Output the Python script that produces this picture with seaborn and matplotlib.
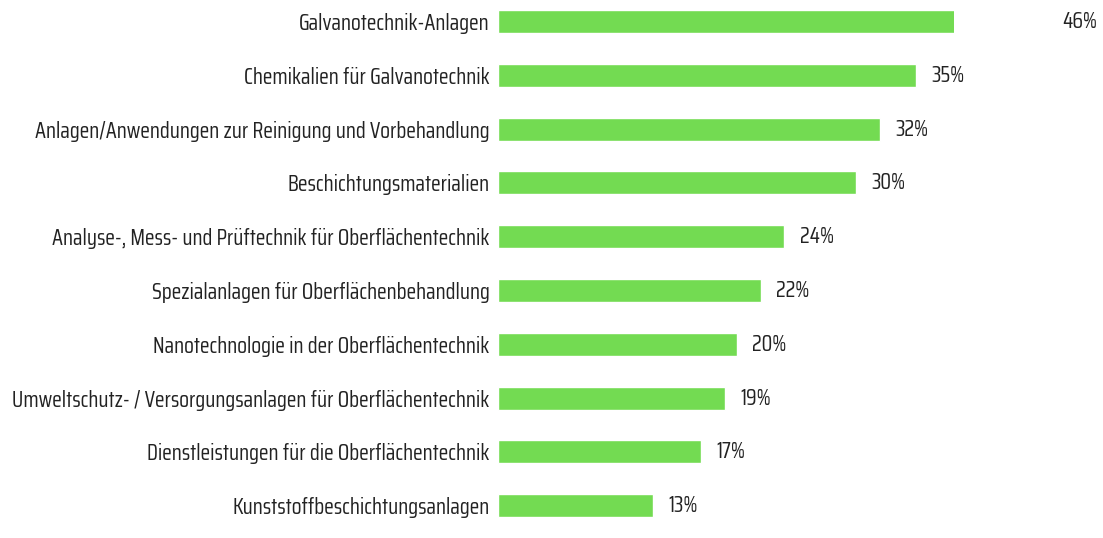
import matplotlib
matplotlib.use("Agg")
import matplotlib.pyplot as plt
import seaborn as sns
import pandas as pd

kategorien = [
    "Galvanotechnik-Anlagen",
    "Chemikalien für Galvanotechnik",
    "Anlagen/Anwendungen zur Reinigung und Vorbehandlung",
    "Beschichtungsmaterialien",
    "Analyse-, Mess- und Prüftechnik für Oberflächentechnik",
    "Spezialanlagen für Oberflächenbehandlung",
    "Nanotechnologie in der Oberflächentechnik",
    "Umweltschutz- / Versorgungsanlagen für Oberflächentechnik",
    "Dienstleistungen für die Oberflächentechnik",
    "Kunststoffbeschichtungsanlagen",
]
anteile = [46, 35, 32, 30, 24, 22, 20, 19, 17, 13]
labels = [f"{v}%" for v in anteile]

df = pd.DataFrame({"Kategorie": kategorien, "Anteil": anteile})

sns.set_theme(style="white")
# Agency-FB-artige Schmalschrift
plt.rcParams['font.family'] = ['Saira Condensed', 'Economica', 'DejaVu Sans']

fig = plt.figure(figsize=(11.03, 5.38), dpi=100)
ax = fig.add_axes([498 / 1103, 0.0, (954 - 498) / 1103, 1.0])

sns.barplot(data=df, x="Anteil", y="Kategorie", color="#73db52", saturation=1,
            width=0.43, ax=ax)

# erster Balken wird am Rand abgeschnitten wie im Original
xmax = 38.2
ax.set_xlim(0, xmax)
ax.set_ylim(len(kategorien) - 0.5 + 0.1, -0.5 + 0.1)

for i, (v, t) in enumerate(zip(anteile, labels)):
    ax.annotate(t, xy=(v, i), xytext=(11, 0), textcoords="offset points",
                va="center", ha="left", fontsize=16, color="#222222",
                annotation_clip=False)

ax.set_xlabel("")
ax.set_ylabel("")
ax.set_xticks([])
ax.tick_params(axis="y", length=0, pad=6, labelsize=16, labelcolor="#222222")
sns.despine(ax=ax, left=True, bottom=True)

fig.savefig("out.png", dpi=100)
